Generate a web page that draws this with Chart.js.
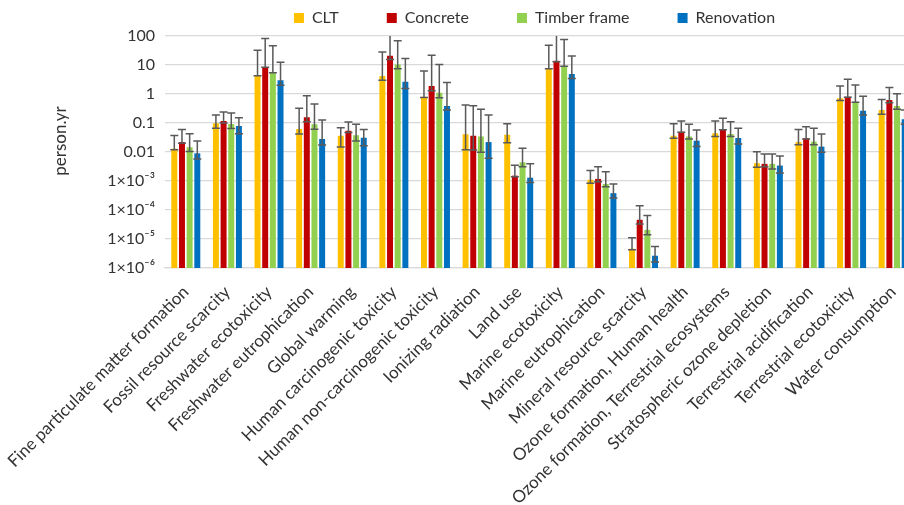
<!DOCTYPE html>
<html>
<head>
<meta charset="utf-8">
<script src="https://cdn.jsdelivr.net/npm/chart.js@4/dist/chart.umd.min.js"></script>
<style>
  html, body { margin: 0; padding: 0; background: #fff; overflow: hidden; }
  #wrap { width: 914px; height: 505px; }
</style>
</head>
<body>
<div id="wrap"><canvas id="c" width="914" height="505"></canvas></div>
<script>
// Impact categories (ReCiPe midpoints, normalised to person.yr)
const categories = [
  'Fine particulate matter formation', 'Fossil resource scarcity', 'Freshwater ecotoxicity',
  'Freshwater eutrophication', 'Global warming', 'Human carcinogenic toxicity',
  'Human non-carcinogenic toxicity', 'Ionizing radiation', 'Land use', 'Marine ecotoxicity',
  'Marine eutrophication', 'Mineral resource scarcity', 'Ozone formation, Human health',
  'Ozone formation, Terrestrial ecosystems', 'Stratospheric ozone depletion',
  'Terrestrial acidification', 'Terrestrial ecotoxicity', 'Water consumption'
];

// CLT
const cltValues = [0.013, 0.098, 4.5, 0.062, 0.036, 4.2, 0.80, 0.041, 0.039, 7.6, 0.0011, 4.6e-6, 0.036, 0.044, 0.0041, 0.022, 0.71, 0.28];
const cltHigh   = [0.037, 0.19, 32, 0.32, 0.069, 28, 6.2, 0.42, 0.095, 48, 0.0023, 1.1e-5, 0.095, 0.117, 0.0103, 0.06, 1.87, 0.65];
const cltLow    = [0.012, 0.066, 4.3, 0.042, 0.015, 3.0, 0.75, 0.012, 0.021, 7.4, 0.00084, 4.3e-6, 0.030, 0.034, 0.003, 0.0177, 0.6, 0.2];

// Concrete
const concreteValues = [0.022, 0.117, 8.6, 0.157, 0.054, 20.7, 1.87, 0.036, 0.00153, 13.9, 0.00118, 4.6e-5, 0.05, 0.06, 0.0039, 0.0297, 0.80, 0.62];
const concreteHigh   = [0.06, 0.24, 82, 0.87, 0.108, 150, 21.8, 0.39, 0.0035, 140, 0.0031, 1.39e-4, 0.117, 0.145, 0.0086, 0.0745, 3.2, 1.69];
const concreteLow    = [0.02, 0.10, 8.3, 0.11, 0.047, 15.5, 1.29, 0.0117, 0.0014, 13, 0.00094, 3.3e-5, 0.048, 0.058, 0.0031, 0.028, 0.78, 0.5];

// Timber frame
const timberValues = [0.0146, 0.092, 5.5, 0.09, 0.0376, 10.4, 1.1, 0.034, 0.0044, 9.1, 0.00079, 2.07e-5, 0.034, 0.042, 0.0039, 0.0227, 0.54, 0.384];
const timberHigh   = [0.043, 0.22, 46, 0.45, 0.09, 68, 10.4, 0.30, 0.0134, 75, 0.0021, 6.5e-5, 0.09, 0.11, 0.0086, 0.066, 2.03, 1.02];
const timberLow    = [0.0105, 0.064, 5.4, 0.061, 0.024, 7.4, 0.74, 0.0098, 0.0031, 9, 0.00063, 1.4e-5, 0.028, 0.034, 0.0026, 0.0177, 0.52, 0.3];

// Renovation
const renovationValues = [0.009, 0.079, 3.0, 0.028, 0.031, 2.64, 0.384, 0.022, 0.0013, 4.85, 0.00038, 2.65e-6, 0.0245, 0.0304, 0.0034, 0.0153, 0.265, 0.134];
const renovationHigh   = [0.024, 0.152, 12.5, 0.127, 0.06, 16.8, 2.5, 0.188, 0.0039, 20.6, 0.00079, 5.5e-6, 0.057, 0.066, 0.0073, 0.042, 0.83, 0.28];
const renovationLow    = [0.0057, 0.043, 2.0, 0.0176, 0.0163, 1.56, 0.28, 0.0061, 0.00088, 3.4, 0.00026, 1.6e-6, 0.0154, 0.019, 0.0019, 0.0098, 0.188, 0.09];

// Logarithmic axis: one tick per decade
const tickValues = [1e-6, 1e-5, 1e-4, 1e-3, 0.01, 0.1, 1, 10, 100];
const tickLabels = ['1×10⁻⁶', '1×10⁻⁵', '1×10⁻⁴', '1×10⁻³', '0.01', '0.1', '1', '10', '100'];
const yTitle = 'person.yr';

const FONT = 'Lato, "DejaVu Sans", sans-serif';
const TEXT = '#333333';
const GRID = '#d9d9d9';

Chart.defaults.font.family = FONT;
Chart.defaults.color = TEXT;

// Min/max error bars on top of each bar, clipped to the plot area
const errorBars = {
  id: 'errorBars',
  afterDatasetsDraw(chart) {
    const { ctx, chartArea, scales } = chart;
    const y = scales.y;
    ctx.save();
    ctx.beginPath();
    ctx.rect(chartArea.left, chartArea.top, chartArea.right - chartArea.left, chartArea.bottom - chartArea.top);
    ctx.clip();
    ctx.strokeStyle = '#595959';
    ctx.lineWidth = 1.5;
    chart.data.datasets.forEach((ds, di) => {
      const meta = chart.getDatasetMeta(di);
      meta.data.forEach((bar, i) => {
        const x = bar.x;
        const yHi = y.getPixelForValue(ds.errHigh[i]);
        const yLo = y.getPixelForValue(ds.errLow[i]);
        ctx.beginPath();
        ctx.moveTo(x, yLo); ctx.lineTo(x, yHi);
        ctx.moveTo(x - 4, yHi); ctx.lineTo(x + 4, yHi);
        ctx.moveTo(x - 4, yLo); ctx.lineTo(x + 4, yLo);
        ctx.stroke();
      });
    });
    ctx.restore();
  }
};

// Vertical axis title, placed beside the tick labels
const axisTitle = {
  id: 'axisTitle',
  afterDraw(chart) {
    const { ctx } = chart;
    ctx.save();
    ctx.translate(61, 141);
    ctx.rotate(-Math.PI / 2);
    ctx.font = '17px ' + FONT;
    ctx.fillStyle = TEXT;
    ctx.textAlign = 'center';
    ctx.textBaseline = 'middle';
    ctx.fillText(yTitle, 0, 0);
    ctx.restore();
  }
};

// Nudge the legend row so it sits slightly left of the plot centre
const legendOffset = {
  id: 'legendOffset',
  afterLayout(chart) {
    if (chart.legend) {
      chart.legend.left -= 5;
      chart.legend.right -= 5;
    }
  }
};

function series(label, values, low, high, color) {
  return {
    label,
    data: values,
    errLow: low,
    errHigh: high,
    backgroundColor: color,
    borderWidth: 0,
    categoryPercentage: 0.737,
    barPercentage: 0.78
  };
}

new Chart(document.getElementById('c'), {
  type: 'bar',
  data: {
    labels: categories,
    datasets: [
      series('CLT', cltValues, cltLow, cltHigh, '#FFC000'),
      series('Concrete', concreteValues, concreteLow, concreteHigh, '#C00000'),
      series('Timber frame', timberValues, timberLow, timberHigh, '#92D050'),
      series('Renovation', renovationValues, renovationLow, renovationHigh, '#0070C0')
    ]
  },
  options: {
    responsive: false,
    animation: false,
    events: [],
    layout: { padding: { top: -38, left: 0, right: 0, bottom: 0 } },
    plugins: {
      tooltip: { enabled: false },
      legend: {
        position: 'top',
        fullSize: false,
        labels: {
          boxWidth: 10,
          boxHeight: 10,
          padding: 48,
          color: TEXT,
          font: { size: 16, family: FONT }
        }
      }
    },
    scales: {
      x: {
        grid: { display: false },
        border: { display: true, color: GRID, width: 1.3 },
        ticks: {
          autoSkip: false,
          minRotation: 45,
          maxRotation: 45,
          padding: 6,
          color: TEXT,
          font: { size: 17, family: FONT }
        },
        afterFit(scale) {
          scale.height = 237;
          scale.paddingLeft = 0;
          scale.paddingRight = 0;
        }
      },
      y: {
        type: 'logarithmic',
        min: 1e-6,
        max: 100,
        grid: { color: GRID, lineWidth: 1.3, drawTicks: false },
        border: { display: false },
        ticks: {
          padding: 10,
          color: TEXT,
          font: { size: 16, family: FONT },
          autoSkip: false,
          callback: (value) => {
            const k = tickValues.indexOf(value);
            return k >= 0 ? tickLabels[k] : '';
          }
        },
        afterBuildTicks(scale) {
          scale.ticks = tickValues.map(v => ({ value: v }));
        },
        afterFit(scale) {
          scale.width = 165;
        }
      }
    }
  },
  plugins: [errorBars, axisTitle, legendOffset]
});
</script>
</body>
</html>
